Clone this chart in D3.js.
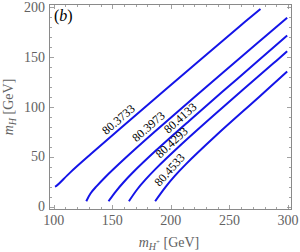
<!DOCTYPE html>
<html><head><meta charset="utf-8">
<script src="https://cdn.jsdelivr.net/npm/d3@7"></script>
<style>body{margin:0;background:#fff;}svg{display:block;}
text{font-family:"Liberation Serif","Times New Roman","DejaVu Serif",serif;}</style>
</head><body>
<svg id="c" width="300" height="252"></svg>
<script>
// contour labels (W mass values, GeV)
const contourLabels = ["80.3733","80.3973","80.4133","80.4293","80.4533"];
// contour points [mH+, mH]
const curve1 = [[101.0,20.0],[102.0,20.4],[114.2,34.3],[131.7,52.7],[156.8,78.4],[195.0,117.0],[259.1,181.4],[276.5,198.5]];
const curve2 = [[127.8,5.3],[131.4,13.1],[136.7,20.5],[143.3,28.7],[160.7,48.2],[185.2,74.1],[220.5,110.3],[274.2,164.5],[299.3,189.6]];
const curve3 = [[146.8,5.3],[153.1,15.3],[159.3,23.9],[166.9,33.4],[187.2,56.2],[215.8,86.3],[256.9,128.5],[299.3,171.9]];
const curve4 = [[164.2,5.3],[171.2,17.1],[178.1,26.7],[186.6,37.3],[209.3,62.8],[241.3,96.5],[287.3,143.6],[299.3,156.1]];
const curve5 = [[186.6,5.3],[195.4,19.5],[203.2,30.5],[212.9,42.6],[238.8,71.6],[275.3,110.1],[299.3,135.7]];
// label anchor positions along each contour (mH+ value)
const labelAt = [159.7, 185.4, 212.5, 205.4, 203.9];
const xTicks = [100,150,200,250,300];
const yTicks = [0,50,100,150,200];

const curves = [curve1, curve2, curve3, curve4, curve5];
const svg = d3.select("#c");
const L = 49.5, R = 291.5, T = 4.5, B = 209.5;
const x = d3.scaleLinear().domain([96.4, 303]).range([L, R]);
const y = d3.scaleLinear().domain([-3, 203]).range([B, T]);

const tickCol = "#8a8a8a", labCol = "#626262";
svg.append("rect").attr("x", L).attr("y", T).attr("width", R - L).attr("height", B - T)
  .attr("fill", "none").attr("stroke", tickCol).attr("stroke-width", 1);

const xMinor = d3.range(100, 301, 10), yMinor = d3.range(0, 201, 10);
const g = svg.append("g").attr("stroke", tickCol).attr("stroke-width", 0.8);
xMinor.forEach(v => {
  const len = v % 50 === 0 ? 4.5 : 2.5, px = Math.round(x(v)) + 0.5;
  g.append("line").attr("x1", px).attr("x2", px).attr("y1", B).attr("y2", B - len);
  g.append("line").attr("x1", px).attr("x2", px).attr("y1", T).attr("y2", T + len);
});
yMinor.forEach(v => {
  const len = v % 50 === 0 ? 4.5 : 2.5, py = Math.round(y(v)) + 0.5;
  g.append("line").attr("y1", py).attr("y2", py).attr("x1", L).attr("x2", L + len);
  g.append("line").attr("y1", py).attr("y2", py).attr("x1", R).attr("x2", R - len);
});

svg.append("g").selectAll("text").data(xTicks).join("text")
  .attr("x", d => x(d)).attr("y", 225).attr("text-anchor", "middle")
  .attr("font-size", 14).attr("fill", labCol).text(d => d);
svg.append("g").selectAll("text").data(yTicks).join("text")
  .attr("x", 45).attr("y", d => y(d) + 4.5).attr("text-anchor", "end")
  .attr("font-size", 14).attr("fill", labCol).text(d => d);

const xt = svg.append("text").attr("x", 169).attr("y", 247).attr("text-anchor", "middle")
  .attr("font-size", 14).attr("fill", labCol);
xt.append("tspan").attr("font-style", "italic").text("m");
xt.append("tspan").attr("font-style", "italic").attr("font-size", 10).attr("dy", 3).text("H");
xt.append("tspan").attr("font-size", 7).attr("dy", -6).text("+");
xt.append("tspan").attr("dy", 3).text(" [GeV]");

const yt = svg.append("text").attr("transform", "translate(13,107) rotate(-90)").attr("text-anchor", "middle")
  .attr("font-size", 14).attr("fill", labCol);
yt.append("tspan").attr("font-style", "italic").text("m");
yt.append("tspan").attr("font-style", "italic").attr("font-size", 10).attr("dy", 3).text("H");
yt.append("tspan").attr("dy", -3).text(" [GeV]");

const bl = svg.append("text").attr("x", 54).attr("y", 21).attr("font-size", 16).attr("fill", "#000");
bl.append("tspan").text("(");
bl.append("tspan").attr("font-style", "italic").text("b");
bl.append("tspan").text(")");

const line = d3.line().x(d => x(d[0])).y(d => y(d[1])).curve(d3.curveCatmullRom.alpha(0.5));
const paths = curves.map(c => svg.append("path").datum(c).attr("d", line)
  .attr("fill", "none").attr("stroke", "#1414e8").attr("stroke-width", 2).node());

paths.forEach((p, i) => {
  const total = p.getTotalLength(), target = x(labelAt[i]);
  let lo = 0, hi = total;
  for (let k = 0; k < 40; k++) { const m = (lo + hi) / 2; if (p.getPointAtLength(m).x < target) lo = m; else hi = m; }
  const pt = p.getPointAtLength(lo), a = p.getPointAtLength(Math.max(0, lo - 6)), b = p.getPointAtLength(Math.min(total, lo + 6));
  const ang = Math.atan2(b.y - a.y, b.x - a.x) * 180 / Math.PI;
  svg.append("text").attr("transform", `translate(${pt.x},${pt.y}) rotate(${ang})`)
    .attr("y", -4).attr("text-anchor", "middle").attr("font-size", 12)
    .attr("fill", "#000").text(contourLabels[i]);
});
</script>
</body></html>
